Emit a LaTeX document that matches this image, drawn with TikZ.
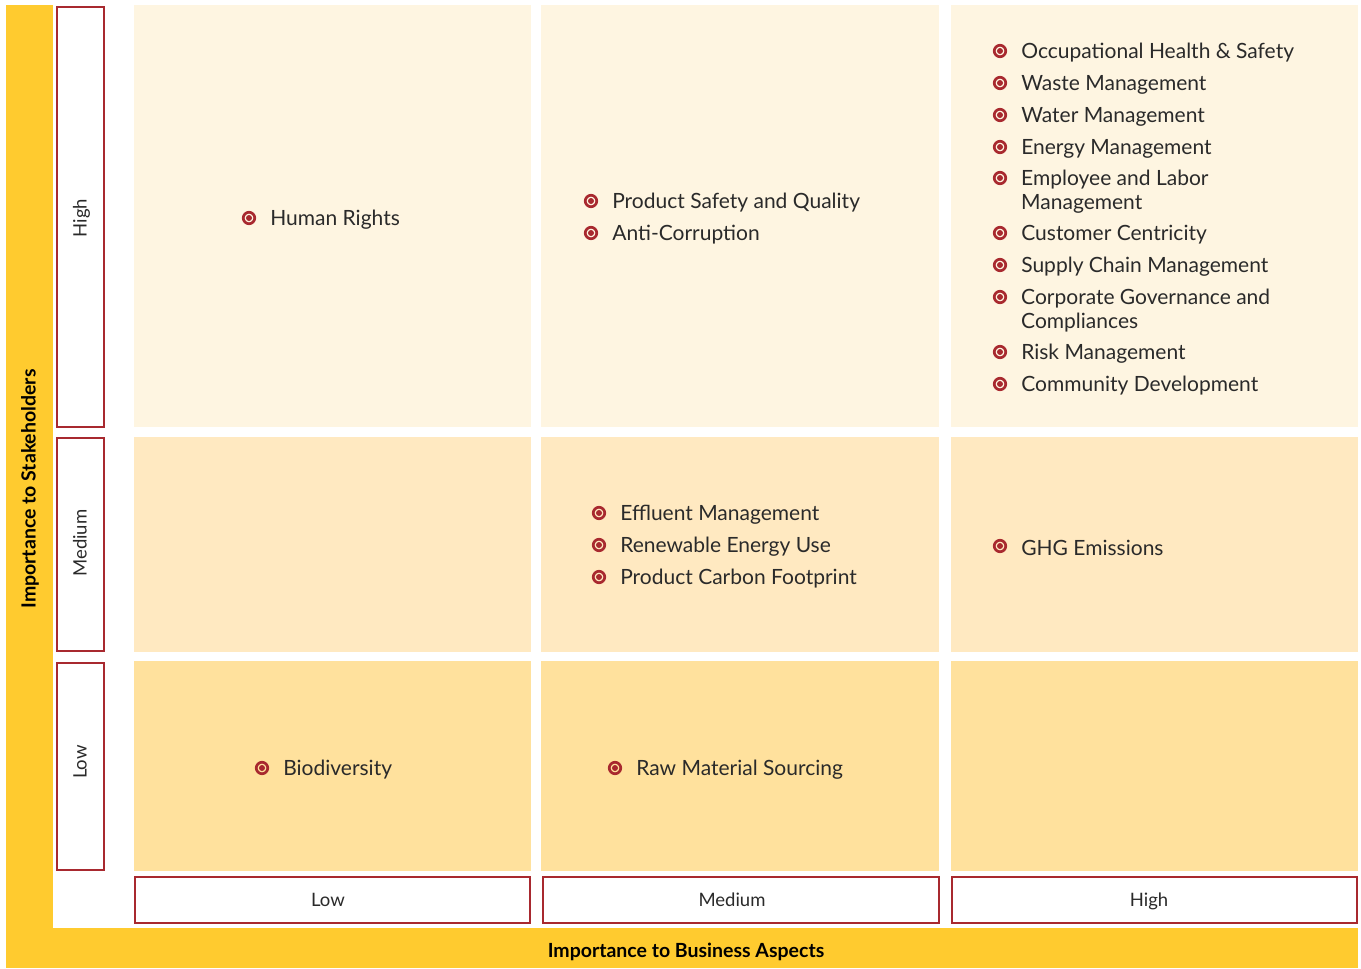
\documentclass[tikz,border=0pt]{standalone}
\usepackage{fontspec}
\setmainfont{Lato}
\usetikzlibrary{positioning}
\definecolor{axisyellow}{HTML}{FFCB2F}
\definecolor{matred}{HTML}{A8292F}
\definecolor{rowhigh}{HTML}{FEF5E1}
\definecolor{rowmed}{HTML}{FFE9C1}
\definecolor{rowlow}{HTML}{FFE19D}
\definecolor{ink}{HTML}{2A2A2A}

\begin{document}
\begin{tikzpicture}[x=1pt, y=-1pt,
            axisbar/.style={fill=axisyellow},
            lvlbox/.style={draw=matred, line width=2pt, fill=white},
            lvl/.style={font=\fontsize{18.5}{22}\selectfont, text=ink, text height=13pt, text depth=0pt},
            axistitle/.style={font=\fontsize{19.5}{22}\selectfont\bfseries, text=black},
            bul/.style={circle, draw=matred, line width=2.7pt, minimum size=11.5pt, inner sep=0pt,
                path picture={\fill[matred] (path picture bounding box.center) circle (3pt);}},
            topic/.style={anchor=west, inner sep=0pt, yshift=-2pt, align=left, text=ink, font=\fontsize{21}{24}\selectfont}
        ]
            \useasboundingbox (0,0) rectangle (1361,969);
            \fill[white] (0,0) rectangle (1361,969);

            % Axis bars
            \fill[axisbar] (6,5) rectangle (53,968);
            \fill[axisbar] (6,928) rectangle (1358,968);
            \node[axistitle, rotate=90] (ystake) at (30,489) {Importance to Stakeholders};
            \node[axistitle] (xbus) at (686,952) {Importance to Business Aspects};

            % Cells
            \fill[rowhigh] (134,5) rectangle (531,427);
            \fill[rowhigh] (541,5) rectangle (939,427);
            \fill[rowhigh] (951,5) rectangle (1358,427);
            \fill[rowmed] (134,437) rectangle (531,652);
            \fill[rowmed] (541,437) rectangle (939,652);
            \fill[rowmed] (951,437) rectangle (1358,652);
            \fill[rowlow] (134,661) rectangle (531,871);
            \fill[rowlow] (541,661) rectangle (939,871);
            \fill[rowlow] (951,661) rectangle (1358,871);

            % Level boxes, stakeholders
            \draw[lvlbox] (57,7) rectangle (104,427);
            \draw[lvlbox] (57,438) rectangle (104,651);
            \draw[lvlbox] (57,663) rectangle (104,870);
            \node[lvl, rotate=90] (yhigh) at (80,218) {High};
            \node[lvl, rotate=90] (ymed) at (80,543) {Medium};
            \node[lvl, rotate=90] (ylow) at (80,762) {Low};

            % Level boxes, business
            \draw[lvlbox] (135,877) rectangle (530,923);
            \draw[lvlbox] (543,877) rectangle (939,923);
            \draw[lvlbox] (952,877) rectangle (1357,923);
            \node[lvl] (xlow) at (328,900) {Low};
            \node[lvl] (xmed) at (732,900) {Medium};
            \node[lvl] (xhigh) at (1149,900) {High};

            % High / Low
            \node[bul] (b11) at (249,218) {};
            \node[topic, right=14pt of b11] (t11) {Human Rights};

            % High / Medium
            \node[bul] (b21) at (591,201) {};
            \node[topic, right=14pt of b21] (t21) {Product Safety and Quality};
            \node[bul] (b22) at (591,233) {};
            \node[topic, right=14pt of b22] (t22) {Anti-Corruption};

            % High / High
            \node[bul] (b31) at (1000,51) {};
            \node[topic, right=14pt of b31] (t31) {Occupational Health \& Safety};
            \node[bul] (b32) at (1000,83) {};
            \node[topic, right=14pt of b32] (t32) {Waste Management};
            \node[bul] (b33) at (1000,115) {};
            \node[topic, right=14pt of b33] (t33) {Water Management};
            \node[bul] (b34) at (1000,147) {};
            \node[topic, right=14pt of b34] (t34) {Energy Management};
            \node[bul] (b35) at (1000,178) {};
            \node[topic] (t35) at (1021,190) {Employee and Labor\\Management};
            \node[bul] (b36) at (1000,233) {};
            \node[topic, right=14pt of b36] (t36) {Customer Centricity};
            \node[bul] (b37) at (1000,265) {};
            \node[topic, right=14pt of b37] (t37) {Supply Chain Management};
            \node[bul] (b38) at (1000,297) {};
            \node[topic] (t38) at (1021,309) {Corporate Governance and\\Compliances};
            \node[bul] (b39) at (1000,352) {};
            \node[topic, right=14pt of b39] (t39) {Risk Management};
            \node[bul] (b310) at (1000,384) {};
            \node[topic, right=14pt of b310] (t310) {Community Development};

            % Medium / Medium
            \node[bul] (b41) at (599,513) {};
            \node[topic, right=14pt of b41] (t41) {Effluent Management};
            \node[bul] (b42) at (599,545) {};
            \node[topic, right=14pt of b42] (t42) {Renewable Energy Use};
            \node[bul] (b43) at (599,577) {};
            \node[topic, right=14pt of b43] (t43) {Product Carbon Footprint};

            % Medium / High
            \node[bul] (b51) at (1000,546) {};
            \node[topic, right=14pt of b51] (t51) {GHG Emissions};

            % Low / Low and Low / Medium
            \node[bul] (b61) at (262,768) {};
            \node[topic, right=14pt of b61] (t61) {Biodiversity};
            \node[bul] (b71) at (615,768) {};
            \node[topic, right=14pt of b71] (t71) {Raw Material Sourcing};
        \end{tikzpicture}
\end{document}
